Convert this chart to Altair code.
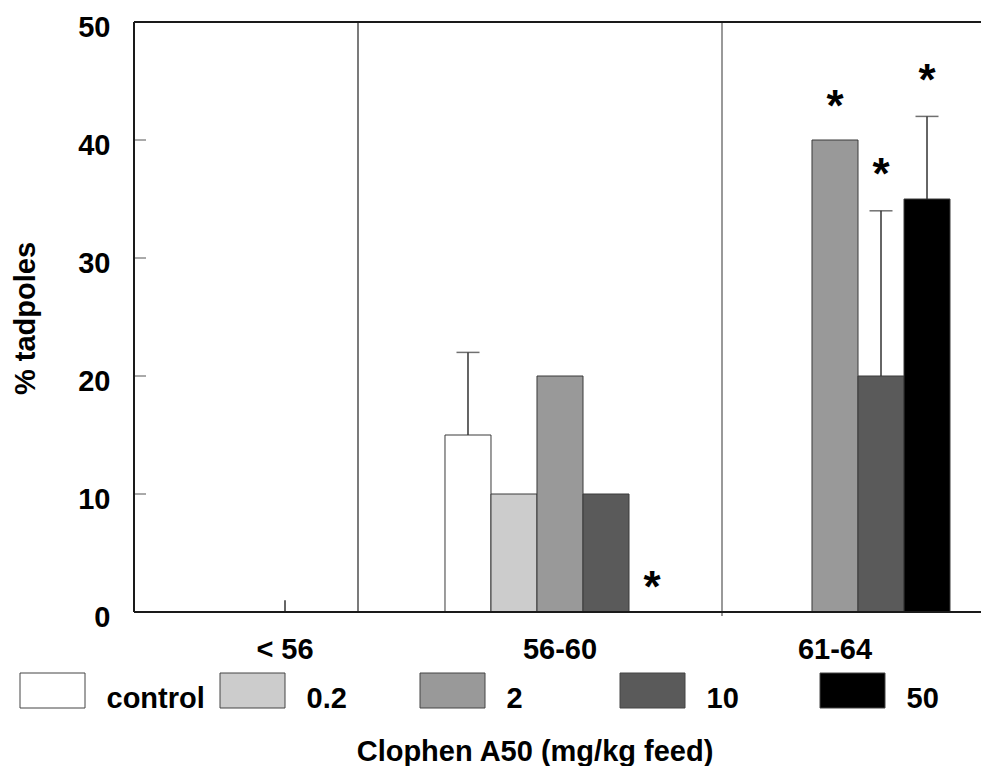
import altair as alt
import pandas as pd

# ---------------- data ----------------
groups = ["< 56", "56-60", "61-64"]
doses = ["control", "0.2", "2", "10", "50"]
fills = ["#ffffff", "#cccccc", "#999999", "#5a5a5a", "#000000"]

pct_lt56 = [0, 0, 0, 0, 0]
pct_56_60 = [15, 10, 20, 10, 0]
pct_61_64 = [0, 0, 40, 20, 35]

err_group = ["< 56", "56-60", "61-64", "61-64"]
err_dose = ["2", "control", "10", "50"]
err_base = [0, 15, 20, 35]
err_top = [1, 22, 34, 42]
err_cap = [False, True, True, True]

star_group = ["56-60", "61-64", "61-64", "61-64"]
star_dose = ["50", "2", "10", "50"]
star_y = [3.0, 43.7, 38.0, 45.9]

y_ticks = [0, 10, 20, 30, 40, 50]
inner_ticks = [10, 20, 30, 40]

FONT = "Liberation Sans"

rows = []
for g, vals in zip(groups, [pct_lt56, pct_56_60, pct_61_64]):
    for d, v in zip(doses, vals):
        rows.append({"group": g, "dose": d, "pct": v})
bar_df = pd.DataFrame(rows)
err_df = pd.DataFrame({"group": err_group, "dose": err_dose, "base": err_base,
                       "top": err_top, "cap": err_cap})
star_df = pd.DataFrame({"group": star_group, "dose": star_dose, "y": star_y})
tick_df = pd.DataFrame({"v": inner_ticks})
legend_df = pd.DataFrame({"dose": doses})
dummy = pd.DataFrame({"a": [0]})

W, H = 847, 590

# ---------------- encodings ----------------
x_axis = alt.Axis(title="Clophen A50 (mg/kg feed)", labelFont=FONT, labelFontSize=29,
                  labelFontWeight="bold", labelColor="black", labelPadding=23,
                  labelAngle=0, ticks=False, tickSize=0, domain=False, grid=False,
                  titleFont=FONT, titleFontSize=29, titleFontWeight="bold",
                  titleColor="black", titleX=400.5, titleY=148,
                  titleBaseline="alphabetic", titleAlign="center")
x_scale = alt.Scale(domain=groups, range=[13.5, 838.5], paddingInner=0, paddingOuter=0)
x_enc = alt.X("group:N", scale=x_scale, axis=x_axis)
xoff = alt.XOffset("dose:N", scale=alt.Scale(domain=doses, paddingInner=0, paddingOuter=0.489))

y_axis = alt.Axis(title="% tadpoles", values=y_ticks, labelFont=FONT, labelFontSize=29,
                  labelFontWeight="bold", labelColor="black", labelPadding=24,
                  labelOffset=5, ticks=False, tickSize=0, domain=False, grid=False,
                  titleFont=FONT, titleFontSize=29, titleFontWeight="bold",
                  titleColor="black", titleX=-100, titleY=296,
                  titleBaseline="alphabetic")
y_scale = alt.Scale(domain=[0, 50], nice=False)

color_enc = alt.Color("dose:N", scale=alt.Scale(domain=doses, range=fills), legend=None)

bars = alt.Chart(bar_df).transform_filter(alt.datum.pct > 0).mark_bar(
    stroke="#3a3a3a", strokeWidth=1
).encode(
    x=x_enc, xOffset=xoff,
    y=alt.Y("pct:Q", scale=y_scale, axis=y_axis),
    color=color_enc,
)

err_rule = alt.Chart(err_df).mark_rule(color="#333333", strokeWidth=1.5).encode(
    x=x_enc, xOffset=xoff,
    y=alt.Y("base:Q", scale=y_scale, axis=y_axis),
    y2=alt.Y2("top:Q"),
)

caps = alt.Chart(err_df).transform_filter(alt.datum.cap).mark_tick(
    color="#333333", thickness=1.5, size=23, orient="horizontal"
).encode(
    x=x_enc, xOffset=xoff,
    y=alt.Y("top:Q", scale=y_scale, axis=y_axis),
)

stars = alt.Chart(star_df).mark_text(
    text="*", font=FONT, fontSize=44, fontWeight="bold", color="black",
    baseline="alphabetic", dy=25
).encode(
    x=x_enc, xOffset=xoff,
    y=alt.Y("y:Q", scale=y_scale, axis=y_axis),
)

inner = alt.Chart(tick_df).mark_rule(color="#555555", strokeWidth=1).encode(
    y=alt.Y("v:Q", scale=y_scale, axis=y_axis),
    x=alt.value(0), x2=alt.value(12),
)

border_col = "#1a1a1a"
left_line = alt.Chart(dummy).mark_rule(color=border_col, strokeWidth=2).encode(
    x=alt.value(0), y=alt.value(0), y2=alt.value(H))
top_line = alt.Chart(dummy).mark_rule(color=border_col, strokeWidth=2).encode(
    x=alt.value(0), x2=alt.value(W), y=alt.value(0))
bottom_line = alt.Chart(dummy).mark_rule(color=border_col, strokeWidth=2).encode(
    x=alt.value(0), x2=alt.value(W), y=alt.value(H))
sep1 = alt.Chart(dummy).mark_rule(color="#222222", strokeWidth=1.2).encode(
    x=alt.value(224), y=alt.value(0), y2=alt.value(H))
sep2 = alt.Chart(dummy).mark_rule(color="#555555", strokeWidth=1.2).encode(
    x=alt.value(588), y=alt.value(0), y2=alt.value(H + 4))

main = alt.layer(bars, err_rule, caps, stars, inner, sep1, sep2,
                 left_line, top_line, bottom_line)

leg_x = alt.X("dose:N", scale=alt.Scale(domain=doses, range=[-181.5, 818.5],
                                        paddingInner=0, paddingOuter=0), axis=None)
legend_boxes = alt.Chart(legend_df).mark_bar(width=65, stroke="#444444", strokeWidth=1).encode(
    x=leg_x, y=alt.value(651), y2=alt.value(686), color=color_enc)
legend_text = alt.Chart(legend_df).mark_text(
    align="left", baseline="alphabetic", dx=54, font=FONT, fontSize=29,
    fontWeight="bold", color="black"
).encode(x=leg_x, y=alt.value(685.5), text="dose:N")

chart = alt.layer(main, legend_boxes, legend_text).resolve_scale(
    x="independent"
).properties(
    width=W, height=H,
    autosize=alt.AutoSizeParams(type="none"),
    padding={"left": 126, "top": 14, "right": 0, "bottom": 154},
).configure_view(strokeWidth=0)

chart.save("out.html", embed_options={"renderer": "svg", "actions": False})
